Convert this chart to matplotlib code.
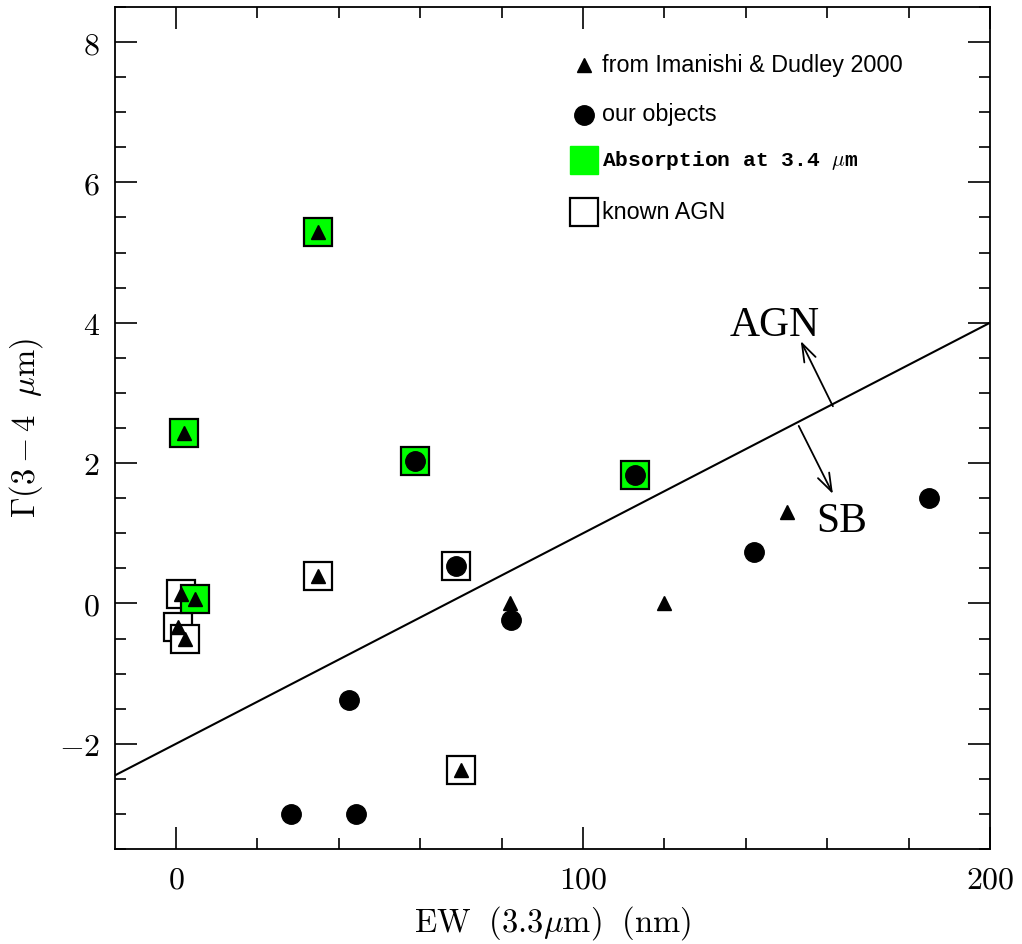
import matplotlib
matplotlib.use("Agg")
import matplotlib.pyplot as plt
from matplotlib.ticker import MultipleLocator, FuncFormatter
import numpy as np

plt.rcParams["mathtext.fontset"] = "cm"

# Imanishi & Dudley 2000 (triangles)
imd_ew = [35, 2, 1.2, 4.7, 0.5, 2.2, 35, 70, 82, 120, 150]
imd_gamma = [5.3, 2.43, 0.14, 0.06, -0.33, -0.5, 0.39, -2.37, 0.0, 0.0, 1.31]

# our objects (circles)
our_ew = [58.8, 112.7, 68.9, 82.2, 42.6, 28.3, 44.3, 141.9, 185]
our_gamma = [2.03, 1.83, 0.54, -0.23, -1.37, -3.0, -3.0, 0.74, 1.5]

# sources with 3.4 um absorption (green squares)
abs_ew = [35, 2, 4.7, 58.8, 112.7]
abs_gamma = [5.3, 2.43, 0.06, 2.03, 1.83]

# known AGN (open squares)
agn_ew = [1.2, 0.5, 2.2, 35, 68.9, 70]
agn_gamma = [0.14, -0.33, -0.5, 0.39, 0.54, -2.37]

# AGN / SB dividing line
line_slope = 0.03
line_icpt = -2.0

xlim = (-15, 200)
ylim = (-3.5, 8.5)

fig = plt.figure(figsize=(10.22, 9.44), dpi=100)
ax = fig.add_axes([0.1125, 0.1006, 0.8562, 0.892])

xl = np.array(xlim)
ax.plot(xl, line_slope * xl + line_icpt, color="black", lw=1.5, zorder=1)

sq = 20
ax.plot(agn_ew, agn_gamma, ls="none", marker="s", ms=sq, mfc="white", mec="black", mew=1.6, zorder=2)
ax.plot(abs_ew, abs_gamma, ls="none", marker="s", ms=sq, mfc="#00ff00", mec="black", mew=1.6, zorder=3)
ax.plot(imd_ew, imd_gamma, ls="none", marker="^", ms=10.5, color="black", zorder=4)
ax.plot(our_ew, our_gamma, ls="none", marker="o", ms=14, color="black", zorder=4)

# arrows + region labels
arr = dict(arrowstyle="->,head_length=1.3,head_width=0.45", color="black", lw=1.3, shrinkA=0, shrinkB=0)
ax.annotate("", xy=(153.5, 3.74), xytext=(161.4, 2.81), arrowprops=arr)
ax.annotate("", xy=(161.4, 1.56), xytext=(153.0, 2.53), arrowprops=arr)
ax.text(147.1, 3.96, "AGN", fontsize=30, family="Liberation Serif", ha="center", va="center")
ax.text(163.6, 1.17, "SB", fontsize=30, family="Liberation Serif", ha="center", va="center")

# legend drawn by hand
lx, tx = 0.536, 0.5566
rows = [0.931, 0.872, 0.818, 0.7565]
ax.plot(lx, rows[0], marker="^", ms=10.5, color="black", transform=ax.transAxes, clip_on=False)
ax.plot(lx, rows[1], marker="o", ms=14, color="black", transform=ax.transAxes, clip_on=False)
ax.plot(lx, rows[2], marker="s", ms=sq, mfc="#00ff00", mec="#00ff00", transform=ax.transAxes, clip_on=False)
ax.plot(lx, rows[3], marker="s", ms=sq, mfc="white", mec="black", mew=1.6, transform=ax.transAxes, clip_on=False)
ax.text(tx, rows[0], "from Imanishi & Dudley 2000", fontsize=16.8, family="Liberation Sans",
        va="center", transform=ax.transAxes)
ax.text(tx, rows[1], "our objects", fontsize=16.8, family="Liberation Sans", va="center", transform=ax.transAxes)
ax.text(tx, rows[2], r"Absorption at 3.4 $\mu$m", fontsize=15.3, family="Liberation Mono", weight="bold",
        va="center", transform=ax.transAxes)
ax.text(tx, rows[3], "known AGN", fontsize=16.8, family="Liberation Sans", va="center", transform=ax.transAxes)

ax.set_xlim(*xlim)
ax.set_ylim(*ylim)
ax.xaxis.set_major_locator(MultipleLocator(100))
ax.xaxis.set_minor_locator(MultipleLocator(20))
ax.yaxis.set_major_locator(MultipleLocator(2))
ax.yaxis.set_minor_locator(MultipleLocator(0.5))
fmt = FuncFormatter(lambda v, p: f"${v:g}$")
ax.xaxis.set_major_formatter(fmt)
ax.yaxis.set_major_formatter(fmt)
ax.tick_params(which="both", direction="in", top=True, right=True, width=1.2)
ax.tick_params(which="major", length=16, labelsize=23, pad=11)
ax.tick_params(which="minor", length=8)
for s in ax.spines.values():
    s.set_linewidth(1.3)

ax.set_xlabel(r"$\mathrm{EW\ \ (3.3}\mu\mathrm{m)\ \ (nm)}$", fontsize=23.5, labelpad=6)
ax.set_ylabel(r"$\Gamma\mathrm{(3-4\ \ }\mu\mathrm{m)}$", fontsize=23.5, labelpad=10)

fig.savefig("out.png", dpi=100)
